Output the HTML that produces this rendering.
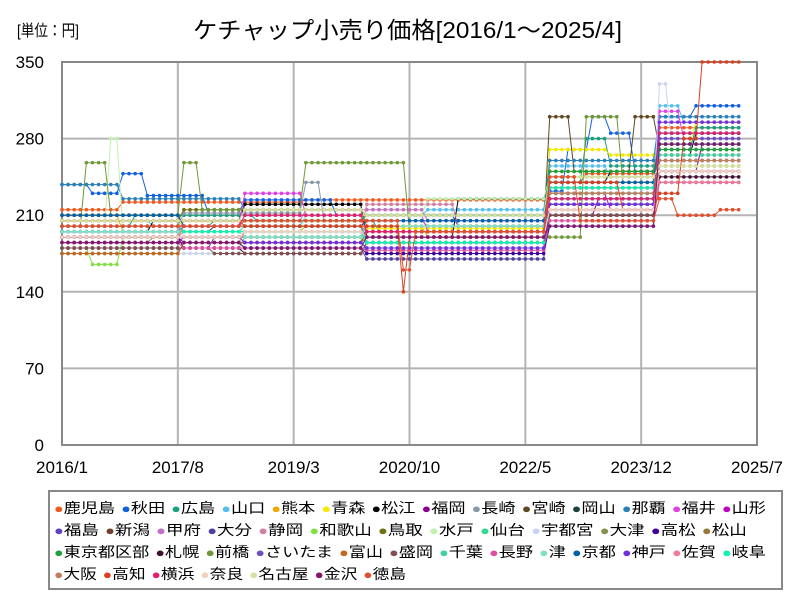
<!DOCTYPE html>
<html><head><meta charset="utf-8">
<style>
body{margin:0;width:800px;height:600px;background:#fff;font-family:"Liberation Sans","Noto Sans CJK JP",sans-serif;overflow:hidden;position:relative}
#unit{position:absolute;left:17px;top:17px;font-size:16px;transform-origin:left top;transform:scaleX(0.85)}
#title{position:absolute;left:193px;top:11px;font-size:23px;white-space:nowrap;transform-origin:left top}
#legend{position:absolute;left:48px;top:490px;width:735px;height:100px;border:2px solid #888;box-sizing:border-box;padding:6px 0 0 4px;font-size:14px}
.row{height:22px;white-space:nowrap;display:block}
.rowin{display:inline-block;white-space:nowrap;transform-origin:left center}
.it{display:inline-block;white-space:nowrap;margin-right:5px}
.dot{font-size:13px}
</style></head><body>
<div id="unit">[単位：円]</div>
<div id="title">ケチャップ小売り価格[2016/1～2025/4]</div>
<svg id="chart" width="800" height="490" style="position:absolute;left:0;top:0"></svg>
<div id="legend"></div>
<script>
const names=["鹿児島","秋田","広島","山口","熊本","青森","松江","福岡","長崎","宮崎","岡山","那覇","福井","山形","福島","新潟","甲府","大分","静岡","和歌山","鳥取","水戸","仙台","宇都宮","大津","高松","松山","東京都区部","札幌","前橋","さいたま","富山","盛岡","千葉","長野","津","京都","神戸","佐賀","岐阜","大阪","高知","横浜","奈良","名古屋","金沢","徳島"];
const colors=["#f05a1e","#1060e0","#1aa080","#55bff0","#f0a800","#f8e800","#000000","#900090","#8899a8","#604820","#1a4040","#2a80b8","#e040e0","#c000c0","#6040c0","#704030","#c070c0","#5040a0","#d080a0","#80e040","#707010","#c0f0b0","#30d890","#c8d4f0","#889050","#4000a0","#987838","#20a040","#401030","#709838","#7050c0","#c06820","#805050","#40d0a0","#e050a0","#80e0c8","#0060a8","#7030e0","#f07898","#10f0b0","#c08060","#d84020","#e02070","#f0d0c0","#d8e0a0","#801870","#e05030"];
const rowBreaks=[14,27,40,47];
const rowWidths=[718,699,718,358];
const yTicks=[0,70,140,210,280,350];
const xTickLabels=["2016/1","2017/8","2019/3","2020/10","2022/5","2023/12","2025/7"];
const xTickMonths=[0,19,38,57,76,95,114];
// run-length encoded monthly series [value, months], 2016/1 .. 2025/4 (112 months)
const s0=[[215,10],[222,30],[224,40],[240,6],[248,12],[290,14]];
const s1=[[238,5],[230,5],[248,4],[228,10],[212,6],[224,15],[210,20],[200,15],[232,3],[270,4],[300,3],[285,4],[250,4],[300,6],[310,8]];
const s2=[[200,12],[210,20],[205,20],[195,28],[240,6],[280,4],[255,8],[270,6],[290,8]];
const s3=[[205,15],[200,25],[210,20],[215,20],[255,10],[245,8],[310,4],[295,10]];
const s4=[[210,10],[195,30],[200,20],[190,20],[250,18],[285,14]];
const s5=[[200,20],[205,30],[198,30],[270,10],[265,8],[275,6],[295,8]];
const s6=[[195,15],[205,15],[220,20],[190,15],[225,15],[240,10],[250,8],[265,6],[285,8]];
const s7=[[190,20],[185,30],[180,30],[210,8],[225,10],[250,7],[275,7]];
const s8=[[200,20],[212,20],[240,3],[205,17],[200,20],[230,18],[260,14]];
const s9=[[190,30],[185,20],[195,30],[300,4],[250,10],[300,4],[270,14]];
const s10=[[195,25],[200,25],[190,30],[220,18],[240,14]];
const s11=[[238,10],[225,20],[215,20],[210,30],[260,18],[300,14]];
const s12=[[200,30],[230,10],[210,20],[195,20],[235,18],[305,4],[280,10]];
const s13=[[185,20],[190,30],[195,30],[230,10],[215,8],[250,14]];
const s14=[[180,25],[190,25],[185,30],[225,18],[265,14]];
const s15=[[175,20],[185,30],[190,30],[230,18],[255,14]];
const s16=[[195,20],[205,20],[215,20],[205,20],[240,18],[270,14]];
const s17=[[185,30],[180,20],[170,30],[210,18],[260,14]];
const s18=[[190,20],[195,30],[220,15],[200,15],[240,18],[265,14]];
const s19=[[180,5],[165,5],[190,40],[185,30],[220,18],[255,14]];
const s20=[[205,20],[215,30],[200,30],[245,18],[285,14]];
const s21=[[200,8],[280,2],[195,30],[210,20],[225,20],[245,18],[280,14]];
const s22=[[180,30],[190,20],[175,30],[225,18],[270,14]];
const s23=[[175,30],[185,30],[180,20],[215,18],[330,2],[275,12]];
const s24=[[185,15],[190,35],[195,30],[235,18],[270,14]];
const s25=[[190,20],[180,30],[175,30],[200,18],[260,14]];
const s26=[[210,20],[200,30],[190,30],[240,18],[275,14]];
const s27=[[200,25],[205,25],[210,30],[250,18],[270,14]];
const s28=[[180,30],[175,20],[185,30],[210,18],[245,14]];
const s29=[[200,4],[258,4],[210,12],[258,3],[215,17],[258,17],[195,23],[190,6],[300,6],[240,6],[275,14]];
const s30=[[195,20],[200,30],[190,30],[220,18],[280,14]];
const s31=[[175,20],[185,30],[195,30],[215,18],[260,14]];
const s32=[[180,25],[175,25],[185,30],[210,18],[250,14]];
const s33=[[195,30],[200,20],[185,30],[230,18],[265,14]];
const s34=[[185,20],[180,30],[178,30],[205,18],[240,14]];
const s35=[[195,30],[190,20],[200,30],[240,18],[260,14]];
const s36=[[210,20],[200,30],[205,30],[240,18],[285,14]];
const s37=[[190,30],[185,20],[180,30],[220,18],[295,14]];
const s38=[[185,30],[195,20],[190,30],[215,18],[240,14]];
const s39=[[200,20],[195,30],[185,30],[235,18],[275,14]];
const s40=[[190,20],[200,30],[195,30],[230,18],[260,14]];
const s41=[[205,30],[200,26],[140,1],[190,23],[240,12],[215,6],[230,4],[280,3],[350,7]];
const s42=[[200,30],[210,20],[195,30],[225,18],[285,14]];
const s43=[[190,30],[195,20],[190,30],[215,18],[250,14]];
const s44=[[205,30],[215,20],[210,30],[245,18],[255,14]];
const s45=[[185,30],[180,20],[190,30],[200,18],[275,14]];
const s46=[[200,30],[205,26],[160,2],[195,22],[245,5],[205,13],[225,3],[210,7],[215,4]];
const seriesRLE=[s0,s1,s2,s3,s4,s5,s6,s7,s8,s9,s10,s11,s12,s13,s14,s15,s16,s17,s18,s19,s20,s21,s22,s23,s24,s25,s26,s27,s28,s29,s30,s31,s32,s33,s34,s35,s36,s37,s38,s39,s40,s41,s42,s43,s44,s45,s46];

const NS="http://www.w3.org/2000/svg";
const svg=document.getElementById('chart');
const L=62,R=757,T=62,B=445,N=112;
const xS=m=>L+(R-L)*m/114;
const yS=v=>B-(B-T)*v/350;
function mk(tag,attrs,parent){const e=document.createElementNS(NS,tag);for(const k in attrs)e.setAttribute(k,attrs[k]);(parent||svg).appendChild(e);return e;}
function expand(r){const out=[];r.forEach(([v,c])=>{for(let i=0;i<c;i++)out.push(v);});while(out.length<N)out.push(out[out.length-1]);return out.slice(0,N);}
yTicks.forEach(v=>{
  const g=mk('line',{x1:L,x2:R,y1:yS(v),y2:yS(v),stroke:'#b4b4b4','stroke-width':2});
  
  
  const t=mk('text',{x:44,y:yS(v)+6,'text-anchor':'end','font-size':17,fill:'#000'});
  t.textContent=v;
  
  
});
xTickMonths.forEach((m,i)=>{
  const g=mk('line',{x1:xS(m),x2:xS(m),y1:T,y2:B,stroke:'#b4b4b4','stroke-width':2});
  
  
  const t=mk('text',{x:xS(m),y:473,'text-anchor':'middle','font-size':17,fill:'#000'});
  t.textContent=xTickLabels[i];
  
  
});
const frame=mk('rect',{x:L,y:T,width:R-L,height:B-T,fill:'none',stroke:'#888','stroke-width':2});


seriesRLE.forEach((r,si)=>{
  const vals=expand(r);
  const g=mk('g',{});
  
  
  const pts=vals.map((v,i)=>xS(i).toFixed(1)+','+yS(v).toFixed(1)).join(' ');
  const pl=mk('polyline',{points:pts,fill:'none',stroke:colors[si],'stroke-width':1},g);
  
  
  vals.forEach((v,i)=>{
    const c=mk('circle',{cx:xS(i),cy:yS(v),r:1.8,fill:colors[si]},g);
    
    
  });
});
const leg=document.getElementById('legend');
let start=0;
rowBreaks.forEach((end,ri)=>{
  const row=document.createElement('div');row.className='row';
  
  
  const inner=document.createElement('span');inner.className='rowin';
  for(let i=start;i<end;i++){
    const it=document.createElement('span');it.className='it';
    
    
    it.innerHTML='<span class="dot" style="color:'+colors[i]+'">●</span>'+names[i];
    inner.appendChild(it);
  }
  row.appendChild(inner);
  leg.appendChild(row);start=end;
  const w=inner.getBoundingClientRect().width;
  inner.style.transform='scaleX('+(rowWidths[ri]/w)+')';
});
const tt=document.getElementById('title');
tt.style.transform='scaleX('+(429/tt.getBoundingClientRect().width)+')';
</script>
</body></html>
